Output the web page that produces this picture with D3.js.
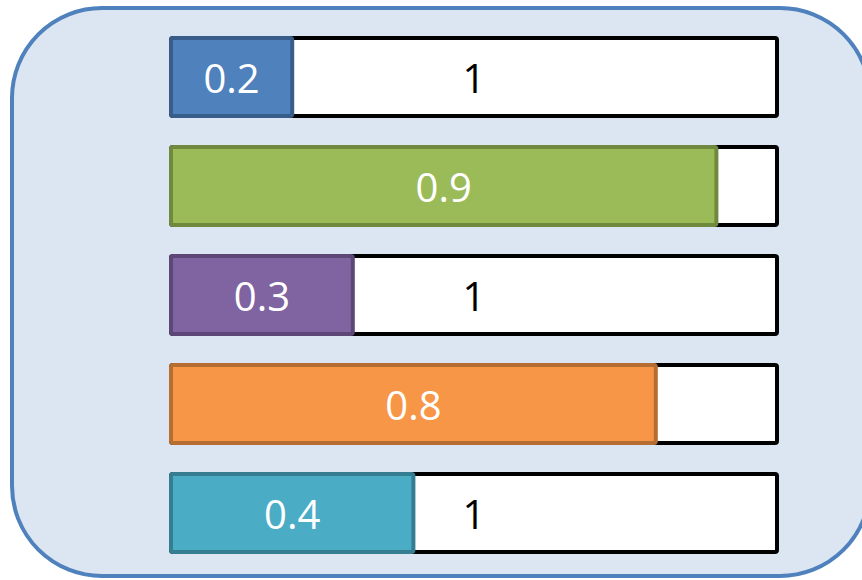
<!DOCTYPE html>
<html>
<head>
<meta charset="utf-8">
<script src="https://cdn.jsdelivr.net/npm/d3@7"></script>
<style>
  body { margin: 0; background: #fff; overflow: hidden; }
  text { font-family: "Open Sans", "Liberation Sans", sans-serif; }
</style>
</head>
<body>
<script>
// Werte der Balken
var rows = ["a", "b", "c", "d", "e"];
var values = [0.2, 0.9, 0.3, 0.8, 0.4];
var totals = [1, 1, 1, 1, 1];
var fills = ["#4f81bd", "#9bbb59", "#8064a2", "#f79646", "#4bacc6"];
var strokes = ["#385d8a", "#71893f", "#5c4776", "#b66d31", "#357d91"];

var width = 862, height = 580;

var svg = d3.select("body").append("svg")
  .attr("width", width)
  .attr("height", height);

// Hintergrund (abgerundetes Rechteck)
svg.append("rect")
  .attr("x", 12).attr("y", 8)
  .attr("width", 858).attr("height", 568)
  .attr("rx", 90).attr("ry", 90)
  .attr("fill", "#dce6f2")
  .attr("stroke", "#4f81bd")
  .attr("stroke-width", 4);

// Skalen
var xScale = d3.scaleLinear().domain([0, 1]).range([171, 777]);
var yScale = d3.scaleBand().domain(rows).range([38, 552]).paddingInner(0.284).paddingOuter(0);

var data = rows.map(function (r, i) {
  return { key: r, value: values[i], total: totals[i], fill: fills[i], stroke: strokes[i] };
});

var g = svg.selectAll(".row").data(data).enter().append("g").attr("class", "row");

// weisser Rahmen (Gesamtwert)
g.append("rect")
  .attr("x", xScale(0))
  .attr("y", function (d) { return yScale(d.key); })
  .attr("width", function (d) { return xScale(d.total) - xScale(0); })
  .attr("height", yScale.bandwidth())
  .attr("rx", 2)
  .attr("fill", "#fff")
  .attr("stroke", "#000")
  .attr("stroke-width", 4);

// Label Gesamtwert - nur wenn nicht vom Balken verdeckt
g.filter(function (d) { return xScale(d.value) < (xScale(0) + xScale(d.total)) / 2 - 20; })
  .append("text")
  .attr("x", function (d) { return (xScale(0) + xScale(d.total)) / 2; })
  .attr("y", function (d) { return yScale(d.key) + yScale.bandwidth() / 2 + 16; })
  .attr("text-anchor", "middle")
  .attr("font-size", 40)
  .attr("fill", "#000")
  .text(function (d) { return d.total; });

// farbiger Balken
g.append("rect")
  .attr("x", xScale(0))
  .attr("y", function (d) { return yScale(d.key); })
  .attr("width", function (d) { return xScale(d.value) - xScale(0); })
  .attr("height", yScale.bandwidth())
  .attr("rx", 2)
  .attr("fill", function (d) { return d.fill; })
  .attr("stroke", function (d) { return d.stroke; })
  .attr("stroke-width", 4);

// Label Wert
g.append("text")
  .attr("x", function (d) { return (xScale(0) + xScale(d.value)) / 2; })
  .attr("y", function (d) { return yScale(d.key) + yScale.bandwidth() / 2 + 16; })
  .attr("text-anchor", "middle")
  .attr("font-size", 40)
  .attr("fill", "#fff")
  .text(function (d) { return d.value; });
</script>
</body>
</html>
